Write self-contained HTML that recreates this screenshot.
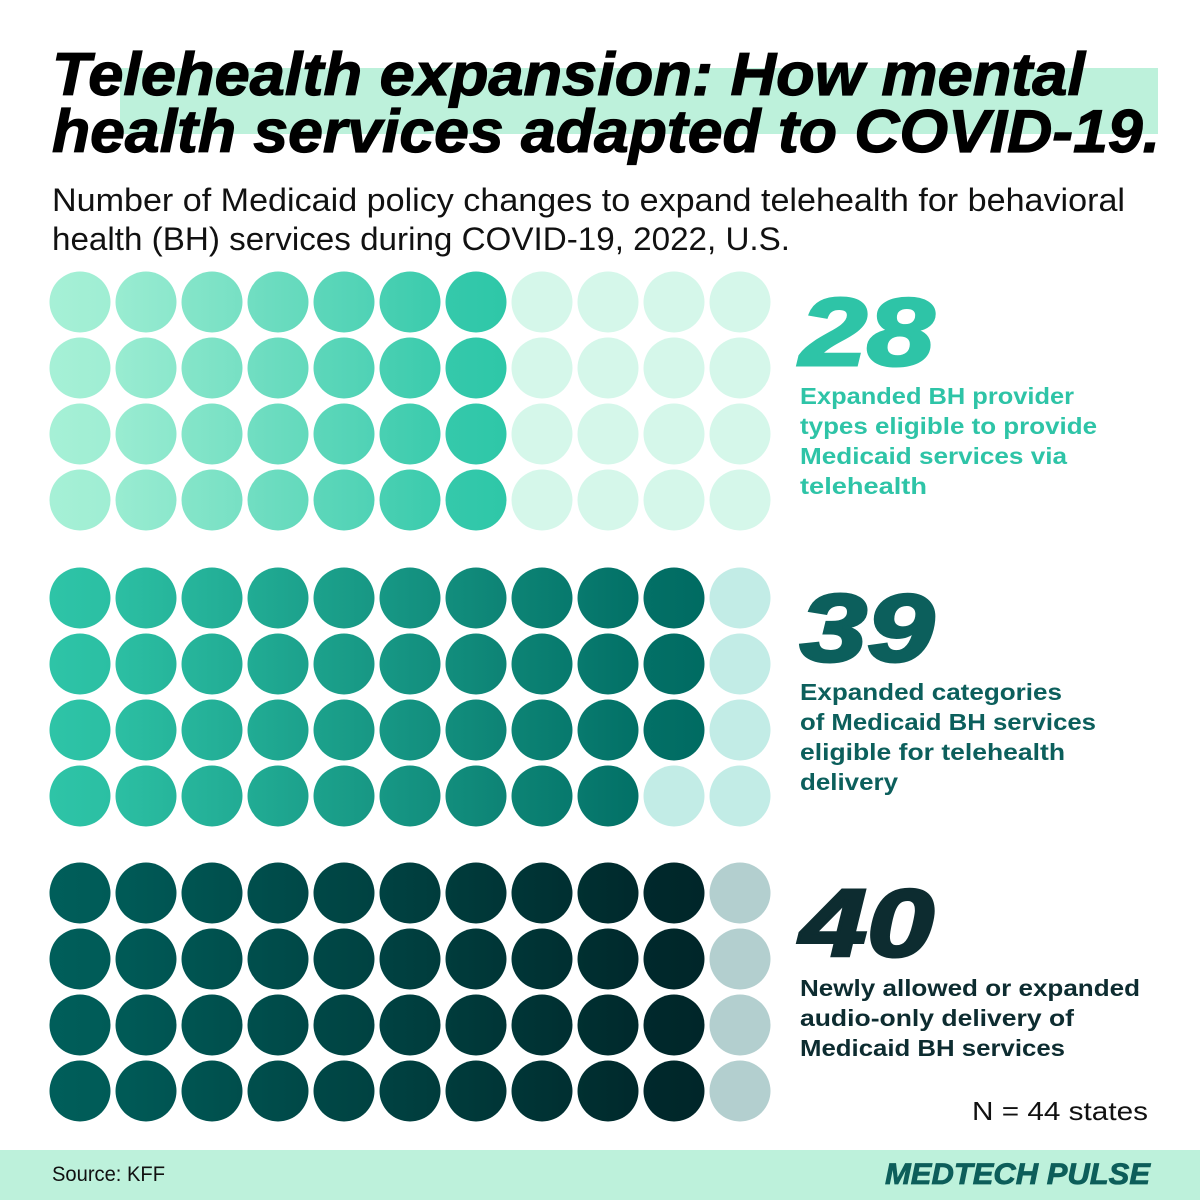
<!DOCTYPE html>
<html><head><meta charset="utf-8"><style>
html,body{margin:0;padding:0;background:#fff}
svg{display:block}
text{font-family:"Liberation Sans",sans-serif}
</style></head><body>
<svg id="chart" width="1200" height="1200" viewBox="0 0 1200 1200" xmlns="http://www.w3.org/2000/svg">
<defs id="defs"></defs>
<rect x="120" y="68" width="1038" height="66" fill="#bdf1db"/>
<text x="52" y="95" font-size="60" font-weight="bold" font-style="italic" fill="#000" textLength="1033" lengthAdjust="spacingAndGlyphs" stroke="#000" stroke-width="1.2">Telehealth expansion: How mental</text>
<text x="52" y="152" font-size="60" font-weight="bold" font-style="italic" fill="#000" textLength="1108" lengthAdjust="spacingAndGlyphs" stroke="#000" stroke-width="1.2">health services adapted to COVID-19.</text>
<text x="52" y="211" font-size="32" fill="#111" textLength="1073" lengthAdjust="spacingAndGlyphs">Number of Medicaid policy changes to expand telehealth for behavioral</text>
<text x="52" y="250" font-size="32" fill="#111" textLength="738" lengthAdjust="spacingAndGlyphs">health (BH) services during COVID-19, 2022, U.S.</text>
<g id="dots"></g>
<g id="labels"></g>
<text x="1148" y="1120" font-size="26" fill="#111" text-anchor="end" textLength="176" lengthAdjust="spacingAndGlyphs">N = 44 states</text>
<rect x="0" y="1150" width="1200" height="50" fill="#bdf1db"/>
<text x="52" y="1181" font-size="21" fill="#111" textLength="113" lengthAdjust="spacingAndGlyphs">Source: KFF</text>
<text x="885" y="1184" font-size="30" font-weight="bold" font-style="italic" fill="#0d5e5a" textLength="265" lengthAdjust="spacingAndGlyphs" stroke="#0d5e5a" stroke-width="0.8">MEDTECH PULSE</text>
</svg>
<script>
const groupNames = ["provider-types", "service-categories", "audio-only"];
const groupValues = [28, 39, 40];
const totalStates = 44;
const bigNumberLabels = ["28", "39", "40"];
const descLines = [
  ["Expanded BH provider", "types eligible to provide", "Medicaid services via", "telehealth"],
  ["Expanded categories", "of Medicaid BH services", "eligible for telehealth", "delivery"],
  ["Newly allowed or expanded", "audio-only delivery of", "Medicaid BH services"]
];

const NS = "http://www.w3.org/2000/svg";
const defs = document.getElementById("defs");
const dotsG = document.getElementById("dots");
const labelsG = document.getElementById("labels");
const rows = 4, cols = totalStates / rows;
const x0 = 80, dx = 66, r = 30.5, dy = 66;
const groupTop = [302, 598, 893];
const startCol = ["#a6f0d6", "#2ec4a7", "#005e5a"];
const endCol = ["#2ec7a8", "#006b62", "#002629"];
const emptyCol = ["#d5f7ea", "#c2ece6", "#b3cfcf"];
const numCol = ["#2ec4a7", "#0c5f5c", "#0d2c30"];
const textCol = ["#2ec4a7", "#0c5f5c", "#0d2c30"];
const descWidth = [[274, 297, 267, 127], [262, 296, 265, 98], [340, 274, 265]];

function hex(h){return [1,3,5].map(i=>parseInt(h.substr(i,2),16));}
function mix(a,b,t){const A=hex(a),B=hex(b);return "rgb("+A.map((v,i)=>Math.round(v+(B[i]-v)*t)).join(",")+")";}
function xPos(c){return x0 + c*dx;}
function yPos(g,rw){return groupTop[g] + rw*dy;}

groupValues.forEach((val, g) => {
  const filledCols = Math.ceil(val / rows);
  for (let c = 0; c < cols; c++) {
    const t = filledCols > 1 ? c / Math.max(filledCols - 1, 1) : 0;
    const gid = "grad-" + g + "-" + c;
    const lg = document.createElementNS(NS, "linearGradient");
    lg.setAttribute("id", gid);
    const s1 = document.createElementNS(NS, "stop"); s1.setAttribute("offset", "0"); s1.setAttribute("stop-color", mix(startCol[g], endCol[g], Math.max(0, t - 0.06)));
    const s2 = document.createElementNS(NS, "stop"); s2.setAttribute("offset", "1"); s2.setAttribute("stop-color", mix(startCol[g], endCol[g], Math.min(1, t + 0.06)));
    lg.appendChild(s1); lg.appendChild(s2); defs.appendChild(lg);
    for (let rw = 0; rw < rows; rw++) {
      const idx = c * rows + rw;
      const filled = idx < val;
      const circ = document.createElementNS(NS, "circle");
      circ.setAttribute("cx", xPos(c));
      circ.setAttribute("cy", yPos(g, rw));
      circ.setAttribute("r", r);
      circ.setAttribute("fill", filled ? "url(#" + gid + ")" : emptyCol[g]);
      
      
      dotsG.appendChild(circ);
    }
  }
  const num = document.createElementNS(NS, "text");
  num.setAttribute("x", 800);
  num.setAttribute("y", groupTop[g] + 63);
  num.setAttribute("font-size", "96");
  num.setAttribute("font-weight", "bold");
  num.setAttribute("font-style", "italic");
  num.setAttribute("fill", numCol[g]);
  num.setAttribute("stroke", numCol[g]);
  num.setAttribute("stroke-width", "3");
  num.setAttribute("textLength", "134");
  num.setAttribute("lengthAdjust", "spacingAndGlyphs");
  num.textContent = bigNumberLabels[g];
  
  
  labelsG.appendChild(num);
  descLines[g].forEach((ln, i) => {
    const t = document.createElementNS(NS, "text");
    t.setAttribute("x", 800);
    t.setAttribute("y", groupTop[g] + (g === 2 ? 103 : 102) + i * 30);
    t.setAttribute("font-size", "23");
    t.setAttribute("font-weight", "bold");
    t.setAttribute("fill", textCol[g]);
    t.setAttribute("textLength", descWidth[g][i]);
    t.setAttribute("lengthAdjust", "spacingAndGlyphs");
    t.textContent = ln;
    
    
    labelsG.appendChild(t);
  });
});
</script>
</body></html>
